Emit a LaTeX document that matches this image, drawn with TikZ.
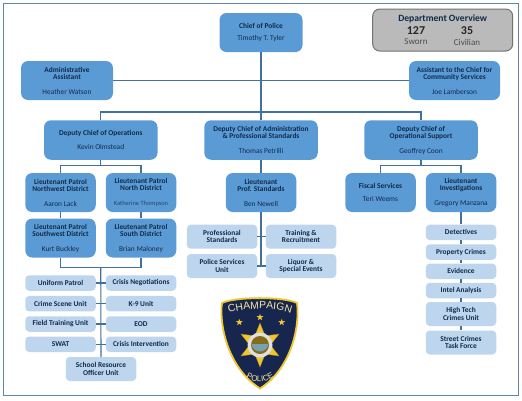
\documentclass[tikz,border=0pt]{standalone}
\usepackage{fontspec}
\setmainfont{Carlito}
\newfontfamily\badgefont{Liberation Sans}
\usetikzlibrary{shapes.geometric,decorations.text}
\definecolor{boxblue}{HTML}{5B9BD5}
\definecolor{paleblue}{HTML}{BDD6EE}
\definecolor{linkblue}{HTML}{41719C}
\definecolor{inkblue}{HTML}{0F2A4A}
\definecolor{badgenavy}{HTML}{16264F}
\definecolor{badgegold}{HTML}{EFC62F}
\tikzset{
  unitbox/.style={rounded corners=7pt, fill=boxblue, align=center, text=inkblue, inner sep=0pt,
    font=\fontsize{7.4}{7.3}\selectfont},
  deputybox/.style={unitbox, minimum width=113.5pt, minimum height=39.5pt},
  ltbox/.style={unitbox, minimum width=70.5pt, minimum height=39pt},
  squadbox/.style={rounded corners=4pt, fill=paleblue, align=center, text=inkblue, inner sep=0pt,
    minimum width=70.5pt, minimum height=15.5pt, font=\fontsize{7.4}{7.3}\selectfont\bfseries},
  tallsquad/.style={squadbox, minimum height=24pt},
  link/.style={draw=linkblue, line width=1.1pt},
}
\begin{document}
\begin{tikzpicture}[x=1pt, y=-1pt]
  \useasboundingbox (0,0) rectangle (522,400);
  \draw[draw=linkblue!85!white, line width=1.2pt] (3.5,3.5) rectangle (518.5,395.5);
  % top row
  \node[unitbox, minimum width=83pt, minimum height=39pt] (chief) at (261,32.5) {\textbf{Chief of Police}\\[4.2pt]Timothy T. Tyler};
  \node[unitbox, minimum width=92pt, minimum height=39pt] (admin) at (67,80.5) {\textbf{Administrative}\\\textbf{Assistant}\\[7.4pt]Heather Watson};
  \node[unitbox, minimum width=91pt, minimum height=39pt] (assistant) at (454.5,80.5) {\textbf{Assistant to the Chief for}\\\textbf{Community Services}\\[7.4pt]Joe Lamberson};
  \node[rounded corners=7pt, fill=black!27, draw=black!55, line width=1pt, minimum width=140pt, minimum height=42pt] (overview) at (442.7,30) {};
  \node[font=\fontsize{9.6}{10}\selectfont\bfseries, text=inkblue] (overviewtitle) at (442.7,18.5) {Department Overview};
  \node[font=\fontsize{12}{12}\selectfont\bfseries, text=black!85] (sworncount) at (416,30.5) {127};
  \node[font=\fontsize{12}{12}\selectfont\bfseries, text=black!85] (civiliancount) at (467,30.5) {35};
  \node[font=\fontsize{9}{9}\selectfont, text=black!70] (sworn) at (416,42) {Sworn};
  \node[font=\fontsize{9}{9}\selectfont, text=black!70] (civilian) at (467,42) {Civilian};
  % deputies
  \node[deputybox] (ops) at (100.75,140) {\textbf{Deputy Chief of Operations}\\[7.4pt]Kevin Olmstead};
  \node[deputybox] (standards) at (261,140) {\textbf{Deputy Chief of Administration}\\\textbf{\& Professional Standards}\\[7.4pt]Thomas Petrilli};
  \node[deputybox] (support) at (421,140) {\textbf{Deputy Chief of}\\\textbf{Operational Support}\\[7.4pt]Geoffrey Coon};
  % lieutenants
  \node[ltbox] (northwest) at (60.5,192.5) {\textbf{Lieutenant Patrol}\\\textbf{Northwest District}\\[7.4pt]Aaron Lack};
  \node[ltbox] (north) at (141,192.5) {\textbf{Lieutenant Patrol}\\\textbf{North District}\\[7.4pt]{\fontsize{6.4}{7.3}\selectfont\color{inkblue!75!boxblue}Katherine Thompson}};
  \node[ltbox] (southwest) at (60.5,238) {\textbf{Lieutenant Patrol}\\\textbf{Southwest District}\\[7.4pt]Kurt Buckley};
  \node[ltbox] (south) at (141,238) {\textbf{Lieutenant Patrol}\\\textbf{South District}\\[7.4pt]Brian Maloney};
  \node[ltbox] (profstd) at (261,192.5) {\textbf{Lieutenant}\\\textbf{Prof. Standards}\\[7.4pt]Ben Newell};
  \node[ltbox] (fiscal) at (380.5,192.5) {\textbf{Fiscal Services}\\[6pt]Teri Weems};
  \node[ltbox] (invest) at (461,192.5) {\textbf{Lieutenant}\\\textbf{Investigations}\\[7.4pt]Gregory Manzana};
  % patrol units
  \foreach \nl/\tl/\nr/\tr/\y in {uniform/Uniform Patrol/negotiation/Crisis Negotiations/283,
      scene/Crime Scene Unit/canine/K-9 Unit/303.7,
      fieldtrain/Field Training Unit/eod/EOD/324,
      swat/SWAT/intervention/Crisis Intervention/344.3} {
    \node[squadbox] (\nl) at (60.5,\y) {\tl};
    \node[squadbox] (\nr) at (141,\y) {\tr};
  }
  \node[tallsquad] (school) at (101,369) {School Resource\\Officer Unit};
  % standards units
  \node[tallsquad] (profunit) at (222,236.7) {Professional\\Standards};
  \node[tallsquad] (training) at (301,236.7) {Training \&\\Recruitment};
  \node[tallsquad] (services) at (222,266) {Police Services\\Unit};
  \node[tallsquad] (liquor) at (301,266) {Liquor \&\\Special Events};
  % investigations units
  \node[squadbox] (detectives) at (461,232.4) {Detectives};
  \node[squadbox] (property) at (461,252) {Property Crimes};
  \node[squadbox] (evidence) at (461,271.3) {Evidence};
  \node[squadbox] (intel) at (461,290.5) {Intel Analysis};
  \node[tallsquad] (hightech) at (461,314) {High Tech\\Crimes Unit};
  \node[tallsquad] (street) at (461,342.5) {Street Crimes\\Task Force};
  % connectors
  \coordinate (chiefbar) at (261,112);
  \coordinate (opsbar) at (100.75,165.5);
  \coordinate (supportbar) at (421,165.5);
  \coordinate (patrolbar) at (100.75,267.7);
  \coordinate (liquorbar) at (261,266);
  \draw[link] (chief.south) -- (standards.north);
  \draw[link] (admin.east) -- (assistant.west);
  \draw[link] (ops.north) |- (chiefbar) -| (support.north);
  \draw[link] (ops.south) -- (opsbar);
  \draw[link] (northwest.north) |- (opsbar) -| (north.north);
  \draw[link] (northwest.south) -- (southwest.north);
  \draw[link] (north.south) -- (south.north);
  \draw[link] (southwest.south) |- (patrolbar) -| (south.south);
  \draw[link] (patrolbar) -- (school.north);
  \foreach \nl/\nr in {uniform/negotiation, scene/canine, fieldtrain/eod, swat/intervention}
    \draw[link] (\nl.east) -- (\nr.west);
  \draw[link] (standards.south) -- (profstd.north);
  \draw[link] (profstd.south) -- (liquorbar);
  \draw[link] (profunit.east) -- (training.west);
  \draw[link] (services.east) -- (liquor.west);
  \draw[link] (support.south) -- (supportbar);
  \draw[link] (fiscal.north) |- (supportbar) -| (invest.north);
  \foreach \a/\b in {invest/detectives, detectives/property, property/evidence, evidence/intel, intel/hightech, hightech/street}
    \draw[link] (\a.south) -- (\b.north);
  % badge
  \draw[fill=badgenavy, draw=badgegold, line width=1.8pt] (222,303)
    .. controls (235,296.5) and (285,296.5) .. (297,303)
    .. controls (300,325) and (292,368) .. (260,388.5)
    .. controls (228,368) and (219,325) .. (222,303) -- cycle;
  \path[decorate, decoration={text along path, text align=center, text color=badgegold!45!white,
      text={|\badgefont\fontsize{10.4}{10.4}\selectfont|CHAMPAIGN}}]
    (226,314) .. controls (245,307) and (275,307) .. (294,314);
  \path[decorate, decoration={text along path, text align=center, text color=badgegold!45!white,
      text={|\badgefont\fontsize{8}{8}\selectfont|POLICE}}]
    (236,368) .. controls (249,386) and (271,386) .. (284,368);
  \foreach \x/\y in {239.3/322.3, 260/317.3, 281.7/322.3}
    \node[star, star points=5, star point ratio=2.4, fill=badgegold, inner sep=0pt, minimum size=7pt] at (\x,\y) {};
  \node[star, star points=6, star point ratio=2.1, fill=badgegold, draw=badgegold!70!black, line width=.3pt, inner sep=0pt, minimum size=44pt] (badgestar) at (260,345) {};
  \fill[white!88!black] (260,345) circle (12.5pt);
  \fill[black!45!badgegold] (260,345) circle (9pt);
  \fill[cyan!35!gray] (260,345) ++(-8.5,-1) arc[start angle=187, end angle=353, radius=8.5pt] -- cycle;
\end{tikzpicture}
\end{document}
